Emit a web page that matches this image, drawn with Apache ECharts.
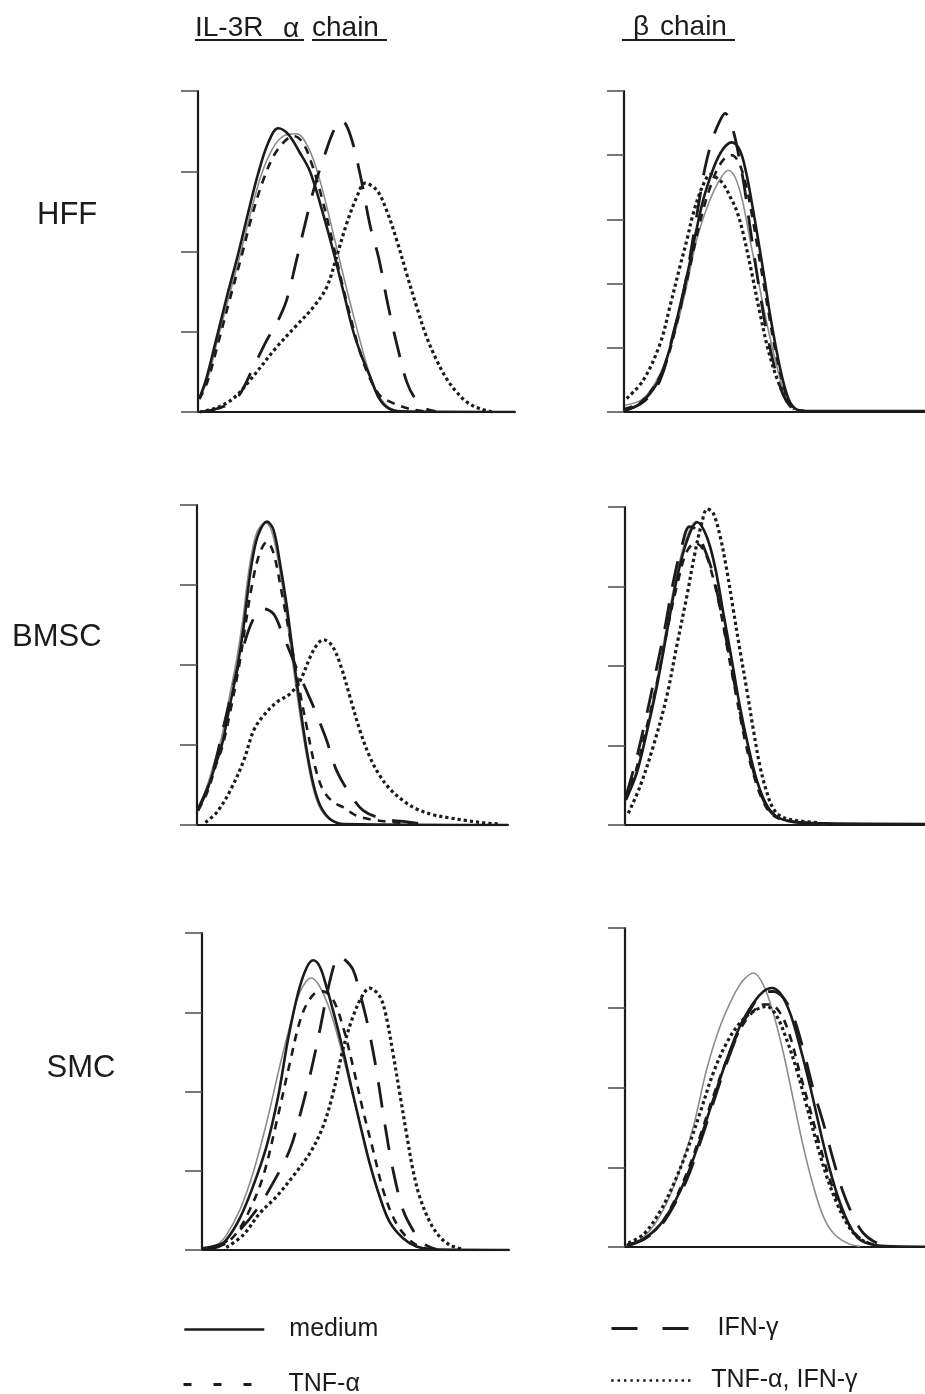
<!DOCTYPE html>
<html>
<head>
<meta charset="utf-8">
<script src="https://cdn.jsdelivr.net/npm/echarts@6/dist/echarts.min.js"></script>
<style>
  html, body { margin: 0; padding: 0; background: #ffffff; }
  #chart { width: 925px; height: 1394px; }
</style>
</head>
<body>
<div id="chart"></div>
<script>
// Row and column headings
const rowLabels = ['HFF', 'BMSC', 'SMC'];
const columnTitleAlpha = ['IL-3R', 'α', 'chain'];
const columnTitleBeta = ['β', 'chain'];
const treatments = ['medium', 'TNF-α', 'IFN-γ', 'TNF-α, IFN-γ'];
const controlName = 'control';

// Histograms: [fluorescence (% of axis), cell count (% of top tick)]
// HFF, IL-3R alpha chain
const hffAlphaControl = [[0.4,4.2],[3,10],[6.3,23],[9.8,36],[13.3,49],[16.6,62],[20,74],[23.5,82],[27,86],[31.1,86.7],[35,82],[38.5,72],[41.6,60],[44.5,48],[47.5,36],[50.5,24.5],[53.3,14.5],[56,7],[59,2.5],[62,0.6],[66,0]];
const hffAlphaMedium = [[0.4,4.2],[2.5,10],[5.6,22],[9,35.5],[12.6,49],[15.8,62],[18.9,74],[22,83.5],[25.3,88.4],[28.5,86.5],[32,81],[35.3,75],[38.8,64],[42.7,50],[46,37],[49,25],[51.8,17],[54.3,11],[57,4.5],[60,1.2],[64,0.2],[100,0]];
const hffAlphaTnf = [[0.4,4],[3,9.5],[6.5,22],[10,35],[13.6,48],[17,61],[20.5,72],[24,80],[27.5,84.5],[30.1,86],[33,84],[36,77],[39,67],[42,55],[45,42],[48,30],[51,19],[54,11],[57.5,5],[61,3],[65,1.5],[68,0.7],[72,0.1]];
const hffAlphaIfn = [[0.6,0],[5.9,1],[12,4],[17.5,14],[21.5,22],[25.3,28.6],[28,35],[31,47],[34.3,60.7],[37,71],[40.1,80.5],[43,88],[45.3,90.9],[47.9,86.7],[51.1,74.2],[54.3,58],[57,48],[60,33],[63,20],[66,9],[69,3.5],[72,1],[75,0.2]];
const hffAlphaBoth = [[0.6,0],[5.9,1.3],[11.1,4.2],[16.4,9.9],[24.8,20.2],[31.1,27],[36.4,32.7],[40.6,38.9],[43.7,48.3],[46.9,58.7],[50.1,67],[52.7,71.3],[56.4,69.1],[59.5,62.8],[62.7,53.5],[65.8,43.1],[69,32.7],[72.1,23.4],[75.3,16.1],[78.4,10.4],[81.6,6.2],[84.8,3.1],[89,1],[93.2,0]];

// HFF, beta chain
const hffBetaControl = [[0.3,2.1],[6.4,4.2],[12,11.9],[17,25],[20.5,38],[24.1,53.5],[27.5,63.5],[31,71],[34.7,75.3],[36.9,73.2],[39.3,66],[42,53],[44.8,40],[47.5,27.5],[50.3,16],[53.3,6],[56,1.5],[58.5,0.4]];
const hffBetaMedium = [[0.3,0.5],[5.3,2.6],[10.9,8.8],[14.5,17.5],[17.5,28.6],[21.5,45],[24,56.5],[26.3,66],[28.6,73],[30.8,78.4],[33.2,82.3],[35.8,84],[38.5,81.5],[40.6,74.5],[42.6,64.5],[44.6,53.5],[46.6,42],[48.4,31],[50.4,20.5],[52.5,11],[54.7,4],[57,1],[60,0.4],[100,0.3]];
const hffBetaTnf = [[0.3,1],[5.5,3],[11,9.5],[14.5,17],[17.5,27.5],[21.5,43.5],[24.2,55],[26.6,64],[29,71],[31.5,76.5],[34,79.5],[35.8,80],[38,78],[40.3,71.5],[42.4,62],[44.4,51],[46.4,40],[48.3,29.5],[50.3,19],[52.5,10],[54.7,3.5],[57,0.8],[60,0.3]];
const hffBetaIfn = [[0.3,0.5],[6.4,3.1],[12,9.9],[16.5,25],[19.5,36],[21.5,46],[23.6,58],[25.2,67],[26.9,76],[29.1,84.1],[31.5,90],[33.6,93],[36,88.5],[38.3,79],[40,70],[41.8,58],[43.7,46],[45.6,34.5],[47.6,24],[50,14],[52.8,5.5],[55.5,1.5],[58,0.3]];
const hffBetaBoth = [[0.9,4.2],[6.4,9.9],[12,21.3],[15.3,33],[18.5,45],[21,54],[23,61.8],[26,70.1],[28.8,74],[31,72.8],[33,71],[35.3,67],[37.4,62.8],[39.6,55.6],[42.5,43],[45.2,30.6],[48,19],[51,10],[54,4],[56.5,0.8]];

// BMSC, IL-3R alpha chain
const bmscAlphaControl = [[0.3,4.5],[3,11.5],[5.7,20],[7.7,26.5],[10.2,39],[12.8,52],[14.7,64],[16.3,77],[17.8,86],[19.5,92],[22,94.5],[24.1,91.5],[26.3,81.5],[28.5,67.5],[30.6,52],[32.8,36.5],[35,23],[37.1,12.5],[39.3,5.8],[42.5,1.8],[47,0.3]];
const bmscAlphaMedium = [[0.3,4.5],[3.2,10.8],[6,19],[8,25],[10.5,37],[13.1,50],[15,62],[16.6,75],[18,84],[19.8,91],[22.5,94.8],[24.6,92.2],[26.7,81.7],[28.9,68.2],[31,52.5],[33.2,36.8],[35.3,23.2],[37.4,12.8],[39.6,6.1],[42.8,1.9],[47.1,0.3],[100,0]];
const bmscAlphaTnf = [[0.3,4.5],[3.2,10],[6.2,19],[8.3,25],[10.8,36],[13.4,49],[15.5,62],[17.5,74],[20,84.5],[22.5,88.5],[24.6,85],[27.3,72.3],[29.9,58.8],[32.6,44.1],[35.3,30.6],[38,18.1],[40.6,10.8],[43.9,7.1],[47.1,5.5],[51.3,2.9],[56.7,1.6],[64.2,0.8],[70.6,0.3]];
const bmscAlphaIfn = [[0.3,5],[4.3,14],[8.6,31],[11.8,44],[15,56],[18.2,64.5],[21.4,67.6],[24.6,66],[27,61],[29.5,55],[32,49],[34.5,43.5],[37,38],[39.5,32],[41.7,26.4],[44.9,17],[49.2,9.7],[53.5,4.5],[59.9,1.9],[66.3,1.1],[72.7,0.3]];
const bmscAlphaBoth = [[2.7,0.8],[6.4,4],[10.7,10.8],[15,20.1],[18.2,29.5],[21.4,34.2],[25.7,38.4],[29.9,41],[33.2,45.2],[36.4,52.5],[38.5,56.2],[40.6,57.9],[43.3,56.2],[46,50.4],[49.2,40],[52.4,29.5],[55.6,21.2],[58.8,15.4],[62,11.3],[66.3,7.6],[70.6,5],[75.9,3.2],[81.3,2.2],[86.6,1.4],[92,0.7],[97.3,0.3]];

// BMSC, beta chain
const bmscBetaControl = [[0.3,8.5],[3.8,17],[7.1,29.5],[10.4,44.5],[13.7,61.5],[17,78],[20.4,90],[23.8,95.5],[27,91],[29.8,81.5],[32.6,66.8],[35.4,52],[38.2,37.3],[41,24.5],[43.8,14],[47.2,6.2],[50.6,2.6],[56,1],[67,0.4]];
const bmscBetaMedium = [[0.3,7.9],[3.9,16.3],[7.2,28.9],[10.6,43.5],[13.9,60.3],[17.2,77.1],[20.6,89.2],[24.1,95.2],[27.2,90.8],[30,81.3],[32.8,66.6],[35.6,51.9],[38.3,37.3],[41.1,24.7],[43.9,14.2],[47.2,6.3],[50.6,2.6],[56.1,1],[67.2,0.5],[100,0.3]];
const bmscBetaTnf = [[0.3,8],[3.6,17],[7,30],[10.5,44],[14,61],[17.5,76],[20.6,86],[23.5,88.6],[26.5,86],[29,79],[31.7,68],[34.4,54],[37.2,40],[40,26.5],[42.8,16],[46,7.5],[49.4,3],[55,1.2],[65,0.4]];
const bmscBetaIfn = [[0.3,9],[3.3,19],[6.7,32.5],[10,47],[13.3,62],[16,76],[19,88],[21.5,93.8],[23.5,93],[26,88],[29,80],[32,67],[35,52],[38,37],[41,24],[44,13],[47.2,6],[50.6,2.5],[56,1],[66,0.4]];
const bmscBetaBoth = [[1.1,3.7],[5,12.1],[9.4,24.7],[13.9,40.4],[17.2,56.1],[20.6,71.9],[23.3,85.5],[25.6,95],[27.4,99.4],[29.4,98.1],[31.7,90.8],[33.9,80.3],[36.1,67.7],[38.3,55.1],[40.6,42.5],[42.8,29.9],[45,18.4],[47.2,10.5],[49.4,5.2],[52.2,2.6],[57.2,1.4],[65,0.7]];

// SMC, IL-3R alpha chain
const smcAlphaControl = [[0.3,0.8],[4.7,1.6],[7.9,4.7],[12.3,12.6],[16.6,24.2],[21,40],[25.3,57.9],[28.6,70.5],[31.8,81.1],[35.6,85.8],[38.3,83.2],[41.6,75.8],[44.8,65.3],[48.1,52.6],[51.4,40],[54.6,27.4],[57.9,16.8],[61.1,8.9],[65.5,3.7],[69.8,1.1]];
const smcAlphaMedium = [[0.3,0.5],[4.7,0.8],[7.9,3.2],[12.3,10],[16.6,20],[21,32.6],[24.8,48.4],[28,66.3],[31.3,81.1],[34,88.9],[36.2,91.4],[38.3,89.5],[40.5,83.2],[43.2,73.7],[45.9,63.2],[48.6,51.6],[51.4,40],[54.6,27.4],[57.9,16.8],[61.1,8.9],[65.5,3.7],[69.8,1.1],[75.2,0.2],[100,0]];
const smcAlphaTnf = [[0.3,0.5],[6.8,1.6],[11.2,5.3],[15.5,12.6],[19.9,23.2],[24.2,40],[28.6,58.9],[32.4,73.7],[36.2,80.5],[39.4,81.6],[42.7,78.9],[45.9,70.5],[49.2,57.9],[52.4,44.2],[55.7,31.6],[59,18.9],[62.2,10.5],[65.5,5.3],[69.8,1.6],[74.2,0.2]];
const smcAlphaIfn = [[0.3,0.5],[6.8,2.1],[12.3,6.3],[17.7,12.6],[23.1,21.1],[28.6,31.6],[31.8,42.1],[35.1,54.7],[38.4,69.5],[41,82.1],[43.2,90.5],[44.3,92.6],[46.5,91.6],[49.2,88.4],[51.4,81.1],[54.1,70.5],[56.8,56.8],[59.5,40],[62.2,25.3],[65.5,12.6],[68.7,6.3],[72,2.1],[76.3,0.2]];
const smcAlphaBoth = [[7.9,0.8],[13.4,4.7],[18.8,11.6],[24.2,16.8],[29.6,23.2],[35.1,30.5],[39.4,38.9],[42.7,49.5],[45.9,63.2],[49.2,73.7],[52.4,80.5],[54.6,82.6],[57.9,80],[60,73.7],[62.2,62.1],[64.4,49.5],[66.6,36.8],[68.7,25.3],[70.9,16.8],[74.2,8.9],[77.4,4.2],[80.7,1.6],[85,0.2]];

// SMC, beta chain
const smcBetaControl = [[0.6,0.7],[5,2.3],[9.4,6.5],[13.9,13.8],[18.3,24.2],[22.8,37.8],[27.2,55.6],[31.7,69.2],[36.1,78.6],[39.4,83.6],[42.8,85.9],[46.1,82.2],[49.4,73.4],[52.8,60.8],[56.1,46.2],[59.4,31.6],[62.8,19],[66.1,9.6],[69.4,4.4],[73.9,1.3],[78.3,0.2]];
const smcBetaMedium = [[0.6,0.7],[6.1,2.5],[11.7,7],[16.1,13.3],[20.6,22.2],[25,33.6],[29.4,46.2],[33.9,58.7],[38.3,69.2],[42.8,76.5],[46.1,80.1],[48.9,81.2],[51.7,79.6],[55,73.4],[58.3,62.9],[61.7,50.4],[65,36.8],[68.3,24.2],[71.7,13.8],[75,6.5],[78.3,2.3],[82.8,0.7],[89.4,0.2],[100,0.1]];
const smcBetaTnf = [[0.6,0.4],[6.1,2.3],[11.7,7],[16.1,13.8],[20.6,23.2],[25,34.7],[29.4,47.2],[33.9,58.7],[38.3,68.1],[42.8,73.9],[46.1,76],[48.3,76],[51.7,73.4],[55,66.1],[58.3,54.5],[61.7,43.1],[65,31.6],[68.3,21.1],[71.7,12.7],[75,6.5],[78.3,2.8],[82.8,0.7]];
const smcBetaIfn = [[0.6,0.4],[6.1,2.3],[11.7,6.5],[16.1,12.7],[20.6,21.1],[25,32.6],[29.4,45.1],[33.9,57.7],[38.3,68.1],[42.8,76],[46.1,79.6],[49.4,80.1],[52.8,78.1],[56.1,72.3],[59.4,61.9],[62.8,49.3],[66.1,38.9],[69.4,27.4],[72.8,16.9],[76.1,9.6],[79.4,4.4],[83.9,1.3],[89.4,0.2]];
const smcBetaBoth = [[1.1,1.3],[6.1,3.9],[11.7,11.2],[16.1,19.5],[20.6,30],[25,42],[29.4,54.5],[33.9,64],[38.3,70.2],[42.8,73.9],[47.2,75.4],[50.6,72.3],[53.9,65],[57.2,55.6],[60.6,44.1],[63.9,32.6],[67.2,22.2],[70.6,13.8],[73.9,7.5],[77.2,3.3],[80.6,1.3]];

// ---------------------------------------------------------------------------
const FONT = '"Liberation Sans", Arial, Helvetica, sans-serif';
const INK = '#1b1b1b';

const lineStyles = {
  [controlName]: { color: '#8c8c8c', width: 1.6, type: 'solid' },
  'medium': { color: INK, width: 2.6, type: 'solid' },
  'TNF-α': { color: INK, width: 2.6, type: [8, 7] },
  'IFN-γ': { color: INK, width: 2.8, type: [26, 17] },
  'TNF-α, IFN-γ': { color: INK, width: 3.2, type: [3.2, 3] }
};

const panels = [
  { grid: { left: 198, top: 91, width: 317, height: 321 }, interval: 25,
    curves: [hffAlphaControl, hffAlphaMedium, hffAlphaTnf, hffAlphaIfn, hffAlphaBoth] },
  { grid: { left: 624, top: 91, width: 301, height: 321 }, interval: 20,
    curves: [hffBetaControl, hffBetaMedium, hffBetaTnf, hffBetaIfn, hffBetaBoth] },
  { grid: { left: 197, top: 505, width: 311, height: 320 }, interval: 25,
    curves: [bmscAlphaControl, bmscAlphaMedium, bmscAlphaTnf, bmscAlphaIfn, bmscAlphaBoth] },
  { grid: { left: 625, top: 507, width: 300, height: 318 }, interval: 25,
    curves: [bmscBetaControl, bmscBetaMedium, bmscBetaTnf, bmscBetaIfn, bmscBetaBoth] },
  { grid: { left: 202, top: 933, width: 307, height: 317 }, interval: 25,
    curves: [smcAlphaControl, smcAlphaMedium, smcAlphaTnf, smcAlphaIfn, smcAlphaBoth] },
  { grid: { left: 625, top: 928, width: 300, height: 319 }, interval: 25,
    curves: [smcBetaControl, smcBetaMedium, smcBetaTnf, smcBetaIfn, smcBetaBoth] }
];
const curveNames = [controlName].concat(treatments);

const grids = [], xAxes = [], yAxes = [], series = [];
panels.forEach((p, i) => {
  grids.push(Object.assign({ containLabel: false }, p.grid));
  xAxes.push({
    type: 'value', gridIndex: i, min: 0, max: 100,
    axisLine: { show: true, onZero: false, lineStyle: { color: INK, width: 2.2 } },
    axisTick: { show: false }, axisLabel: { show: false }, splitLine: { show: false }
  });
  yAxes.push({
    type: 'value', gridIndex: i, min: 0, max: 100, interval: p.interval,
    axisLine: { show: true, onZero: false, lineStyle: { color: INK, width: 2.2 } },
    axisTick: { show: true, length: 17, lineStyle: { color: '#555', width: 1.6 } },
    axisLabel: { show: false }, splitLine: { show: false }
  });
  p.curves.forEach((data, k) => {
    const name = curveNames[k];
    const st = lineStyles[name];
    series.push({
      type: 'line', name: name, xAxisIndex: i, yAxisIndex: i,
      data: data, smooth: 0.35, symbol: 'none', silent: true,
      z: k === 0 ? 2 : 3,
      lineStyle: { color: st.color, width: st.width, type: st.type },
      itemStyle: { color: st.color }
    });
  });
});

// Legend blocks (two columns, two rows)
function legendBlock(name, left, top, lineType, lineWidth, textPad) {
  return {
    data: [name], left: left, top: top, padding: 0, orient: 'horizontal',
    itemWidth: 80, itemHeight: 26, selectedMode: false,
    itemStyle: { color: 'transparent', borderColor: 'transparent', borderWidth: 0, opacity: 0 },
    lineStyle: { type: lineType, width: lineWidth, color: INK },
    textStyle: { fontFamily: FONT, fontSize: 25, color: INK, padding: [0, 0, 0, textPad] }
  };
}
const legends = [
  legendBlock(treatments[0], 183, 1317, 'solid', 2.6, 20),
  legendBlock(treatments[1], 182, 1372, [8, 22], 3, 20),
  legendBlock(treatments[2], 610, 1316, [26, 25], 3, 21),
  legendBlock(treatments[3], 610, 1368, [2.4, 4], 2.4, 15)
];

// Column titles (underlined) and row labels
function headText(text, x, y, size, align) {
  return { type: 'text', x: x, y: y, style: { text: text, fontFamily: FONT, fontSize: size, fill: INK, align: align || 'left', verticalAlign: 'middle' } };
}
function underline(x1, x2) {
  return { type: 'line', shape: { x1: x1, y1: 40, x2: x2, y2: 40 }, style: { stroke: INK, lineWidth: 1.9 } };
}
const graphics = [
  headText(columnTitleAlpha[0], 195, 28, 28),
  headText(columnTitleAlpha[1], 283, 29, 28),
  headText(columnTitleAlpha[2], 312, 28, 28),
  underline(195, 304),
  underline(312, 387),
  headText(columnTitleBeta[0], 633, 27, 28),
  headText(columnTitleBeta[1], 660, 27, 28),
  underline(622, 735),
  headText(rowLabels[0], 37, 215, 31),
  headText(rowLabels[1], 12, 637, 31),
  headText(rowLabels[2], 81, 1068, 31, 'center')
];

const chart = echarts.init(document.getElementById('chart'), null, { renderer: 'canvas' });
chart.setOption({
  backgroundColor: '#ffffff',
  animation: false,
  grid: grids,
  xAxis: xAxes,
  yAxis: yAxes,
  legend: legends,
  series: series,
  graphic: graphics
});
</script>
</body>
</html>
